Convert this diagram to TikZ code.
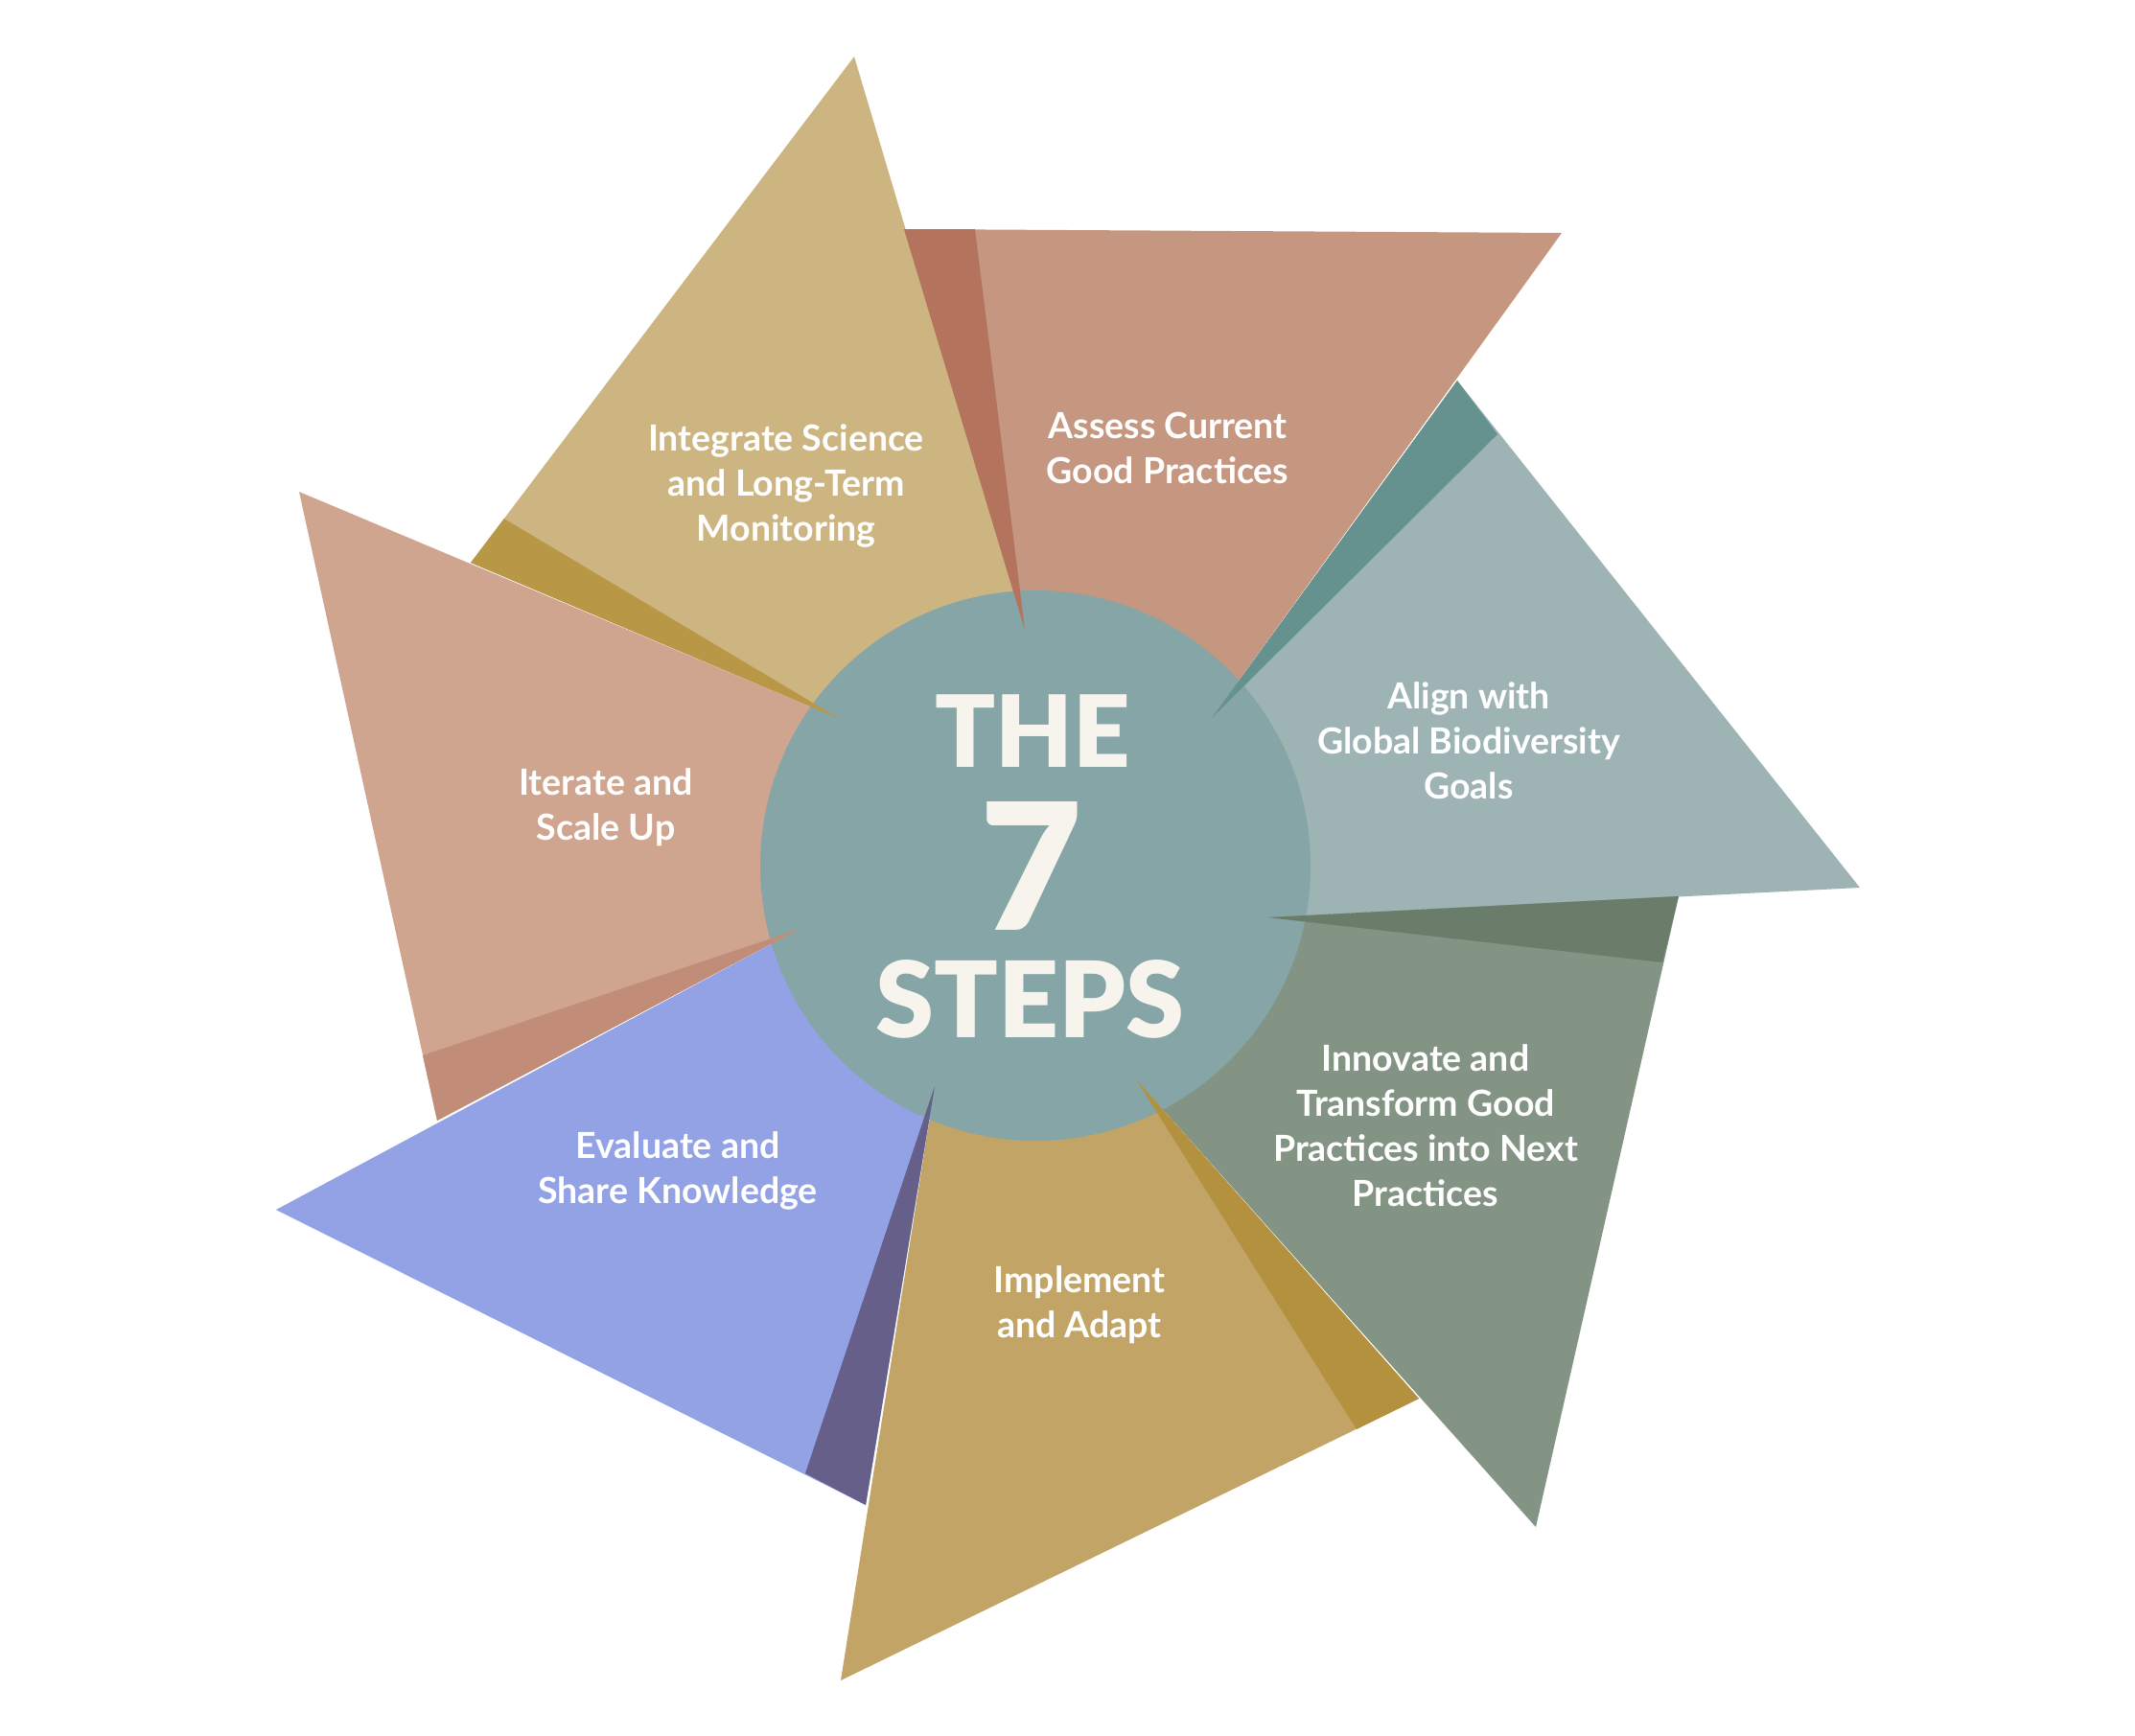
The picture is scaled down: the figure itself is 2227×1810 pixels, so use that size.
\documentclass[tikz,border=0pt]{standalone}
\usepackage{fontspec}
\usetikzlibrary{calc}
\setmainfont{Lato}
\newfontfamily\titlefont{Lato Black}
\newfontfamily\labelfont{Lato}
\definecolor{bodyA}{HTML}{CDB582}\definecolor{slivA}{HTML}{B89747}
\definecolor{bodyB}{HTML}{C59680}\definecolor{slivB}{HTML}{B3735C}
\definecolor{bodyC}{HTML}{9EB3B4}\definecolor{slivC}{HTML}{65918F}
\definecolor{bodyD}{HTML}{849484}\definecolor{slivD}{HTML}{6A7D6B}
\definecolor{bodyE}{HTML}{C2A566}\definecolor{slivE}{HTML}{B3913F}
\definecolor{bodyF}{HTML}{93A1E5}\definecolor{slivF}{HTML}{655F8A}
\definecolor{bodyG}{HTML}{CFA590}\definecolor{slivG}{HTML}{C28D78}
\definecolor{hub}{HTML}{86A5A6}
\definecolor{cream}{HTML}{F7F4EE}
\begin{document}
\begin{tikzpicture}[x=1pt,y=-1pt,
  steplabel/.style={text=white,align=center,inner sep=0pt,font=\labelfont\bfseries\fontsize{37.5}{47}\selectfont},
  titletext/.style={text=cream,inner sep=0pt}]
\useasboundingbox (0,0) rectangle (2227,1810);
% centre
\coordinate (C) at (1080,903);
% tips
\coordinate (TA) at (891,59);
\coordinate (TB) at (1629,243);
\coordinate (TC) at (1940,926);
\coordinate (TD) at (1602,1593);
\coordinate (TE) at (877,1753);
\coordinate (TF) at (288,1262);
\coordinate (TG) at (312,513);
% outer base corners
\coordinate (QA) at (491,587);
\coordinate (QB) at (943,239);
\coordinate (QC) at (1520,397);
\coordinate (QD) at (1751,935);
\coordinate (QE) at (1480,1459);
\coordinate (QF) at (903,1570);
\coordinate (QG) at (456,1169);
% sliver splits
\coordinate (SA) at ($(QA)!0.087!(TA)$);
\coordinate (SB) at (1017,239);
\coordinate (SC) at (1562,453);
\coordinate (SD) at (1734,1004);
\coordinate (SE) at (1415,1491);
\coordinate (SF) at (840,1537);
\coordinate (SG) at (441,1101);
% inner tips
\coordinate (PA) at (876,750);
\coordinate (PB) at (1069,657);
\coordinate (PC) at (1264,749);
\coordinate (PD) at (1322,957);
\coordinate (PE) at (1185,1126);
\coordinate (PF) at (975,1133);
\coordinate (PG) at (834,969);
% blades
\fill[bodyA] (QA) -- (TA) -- (PB) -- (C) -- (PA) -- cycle;
\fill[bodyB] (QB) -- (TB) -- (PC) -- (C) -- (PB) -- cycle;
\fill[bodyC] (QC) -- (TC) -- (PD) -- (C) -- (PC) -- cycle;
\fill[bodyD] (QD) -- (TD) -- (PE) -- (C) -- (PD) -- cycle;
\fill[bodyE] (QE) -- (TE) -- (PF) -- (C) -- (PE) -- cycle;
\fill[bodyF] (QF) -- (TF) -- (PG) -- (C) -- (PF) -- cycle;
\fill[bodyG] (QG) -- (TG) -- (PA) -- (C) -- (PG) -- cycle;
% hub
\fill[hub] (C) circle[radius=287pt];
% slivers (on top of the hub)
\fill[slivA] (QA) -- (SA) -- (PA) -- cycle;
\fill[slivB] (QB) -- (SB) -- (PB) -- cycle;
\fill[slivC] (QC) -- (SC) -- (PC) -- cycle;
\fill[slivD] (QD) -- (SD) -- (PD) -- cycle;
\fill[slivE] (QE) -- (SE) -- (PE) -- cycle;
\fill[slivF] (QF) -- (SF) -- (PF) -- cycle;
\fill[slivG] (QG) -- (SG) -- (PG) -- cycle;
\node[titletext,font=\titlefont\fontsize{104}{104}\selectfont] (the) at (1077,763) {THE};
\node[titletext,font=\titlefont\fontsize{184}{184}\selectfont] (seven) at (1076,903) {7};
\node[titletext,font=\titlefont\fontsize{110}{110}\selectfont] (steps) at (1074,1042) {STEPS};
% labels
\node[steplabel] (integrate) at (820,507) {Integrate Science\\and Long-Term\\Monitoring};
\node[steplabel] (assess) at (1218,467) {Assess Current\\Good Practices};
\node[steplabel] (align) at (1532,773) {Align with\\Global Biodiversity\\Goals};
\node[steplabel] (innovate) at (1487,1174) {Innovate and\\Transform Good\\Practices into Next\\Practices};
\node[steplabel] (implement) at (1126,1361) {Implement\\and Adapt};
\node[steplabel] (evaluate) at (707,1221) {Evaluate and\\Share Knowledge};
\node[steplabel] (iterate) at (632,842) {Iterate and\\Scale Up};
\end{tikzpicture}
\end{document}
